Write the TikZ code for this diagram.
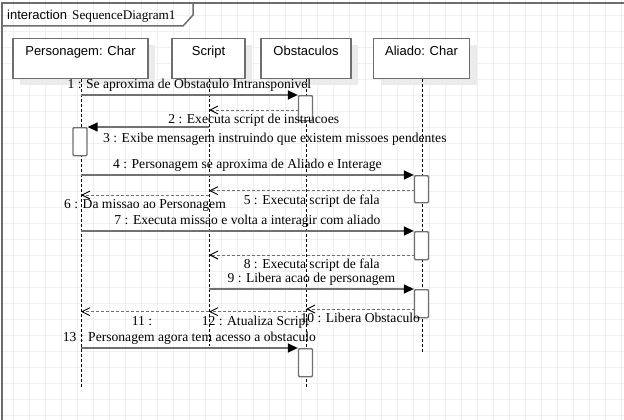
\documentclass[tikz,border=0pt]{standalone}
\usepackage{fontspec}
\setmainfont{Liberation Serif}
\newfontfamily\sansf{Liberation Sans}
\usetikzlibrary{arrows.meta,shadows}
\definecolor{gridc}{HTML}{F0F0F0}
\definecolor{linec}{HTML}{707070}
\definecolor{framec}{HTML}{6E6E6E}
\definecolor{shadc}{HTML}{EBEBEB}
\begin{document}
\begin{tikzpicture}[x=1pt,y=-1pt,
  headbox/.style={draw=framec, line width=1.2pt, fill=white, minimum width=#1,
    text height=17pt, text depth=23pt, inner ysep=0pt, inner xsep=0pt, anchor=north,
    font=\sansf\fontsize{13}{15}\selectfont,
    drop shadow={shadow xshift=7pt, shadow yshift=-6pt, fill=shadc, opacity=1}},
  actbox/.style={draw=linec, line width=1.3pt, fill=white, rounded corners=1pt,
    minimum width=14pt, minimum height=#1, inner sep=0pt, anchor=north},
  lifeline/.style={black, line width=0.9pt, dash pattern=on 3pt off 2pt},
  callmsg/.style={draw=linec, line width=1.4pt, -{Triangle[length=10pt,width=9pt,color=black]}},
  retmsg/.style={draw=linec, line width=1pt, dash pattern=on 3pt off 2pt,
    -{Straight Barb[length=8pt,width=8pt,line width=0.9pt,color=black]}},
  lbl/.style={font=\fontsize{13.6}{15}\selectfont, inner sep=0pt, anchor=base},
  above lbl/.style={lbl, midway, yshift=6.5pt},
  below lbl/.style={lbl, midway, yshift=-13.5pt},
]
\useasboundingbox (0,0) rectangle (624,420);
\fill[white] (0,0) rectangle (624,420);
% grid
\foreach \i in {0,...,38} \draw[gridc, line width=1pt] (13.7+16*\i,0) -- (13.7+16*\i,420);
\foreach \j in {0,...,25} \draw[gridc, line width=1pt] (0,15.3+16*\j) -- (624,15.3+16*\j);
% frame
\draw[framec, line width=1.5pt] (2,421) -- (2,3) -- (625,3);
\draw[framec, line width=1.5pt] (193,3) -- (193,15) -- (183,26) -- (2,26);
\node[anchor=base west, inner sep=0pt, font=\sansf\fontsize{13}{15}\selectfont] (kw) at (7,19.5) {interaction};
\node[anchor=base west, inner sep=0pt, font=\fontsize{13.2}{15}\selectfont] (dname) at (72,19.5) {SequenceDiagram1};
% heads
\node[headbox=135pt] (P) at (80.5,38) {Personagem: Char};
\node[headbox=73pt] (S) at (208.5,38) {Script};
\node[headbox=90pt] (O) at (306,38) {Obstaculos};
\node[headbox=96pt] (A) at (421.5,38) {Aliado: Char};
% lifeline ends
\coordinate (Pend) at (81,387);
\coordinate (Send) at (209,346);
\coordinate (Oend) at (306,388);
\coordinate (Aend) at (422,352);
\draw[lifeline] (P.south -| Pend) -- (Pend);
\draw[lifeline] (S.south -| Send) -- (Send);
\draw[lifeline] (O.south -| Oend) -- (Oend);
\draw[lifeline] (A.south -| Aend) -- (Aend);
% activations
\node[actbox=25pt] (actO1) at (305.5,95) {};
\node[actbox=28pt] (actP1) at (80,127) {};
\node[actbox=27pt] (actA1) at (421.5,175) {};
\node[actbox=28pt] (actA2) at (421.5,231) {};
\node[actbox=28pt] (actA3) at (421.5,289) {};
\node[actbox=28pt] (actO2) at (305.5,348) {};
% message points
\coordinate (p1) at (81,95);
\coordinate (o2) at (298.5,110);
\coordinate (s2) at (209,110);
\coordinate (s3) at (209,127);
\coordinate (p4) at (81,175);
\coordinate (a5) at (414.5,190.7);
\coordinate (s5) at (209,190.7);
\coordinate (s6) at (209,195);
\coordinate (p6) at (81,195);
\coordinate (p7) at (81,231);
\coordinate (a8) at (414.5,255);
\coordinate (s8) at (209,255);
\coordinate (s9) at (209,289);
\coordinate (a10) at (414.5,309);
\coordinate (o10) at (306,309);
\coordinate (s11) at (209,311.7);
\coordinate (p11) at (81,311.7);
\coordinate (o12) at (306,311.7);
\coordinate (s12) at (209,311.7);
\coordinate (p13) at (81,348);
% messages
\draw[callmsg] (p1) -- node[above lbl] {1 : Se aproxima de Obstaculo Intransponivel} (actO1.north west);
\draw[retmsg] (o2) -- node[below lbl] {2 : Executa script de instrucoes} (s2);
\draw[callmsg] (s3) -- (actP1.north east);
\node[lbl, anchor=base west] (l3) at (103,142.7) {3 : Exibe mensagem instruindo que existem missoes pendentes};
\draw[callmsg] (p4) -- node[above lbl] {4 : Personagem se aproxima de Aliado e Interage} (actA1.north west);
\draw[retmsg] (a5) -- node[below lbl] {5 : Executa script de fala} (s5);
\draw[retmsg] (s6) -- node[below lbl] {6 : Da missao ao Personagem} (p6);
\draw[callmsg] (p7) -- node[above lbl] {7 : Executa missao e volta a interagir com aliado} (actA2.north west);
\draw[retmsg] (a8) -- node[below lbl] {8 : Executa script de fala} (s8);
\draw[callmsg] (s9) -- node[above lbl] {9 : Libera acao de personagem} (actA3.north west);
\draw[retmsg] (a10) -- node[below lbl] {10 : Libera Obstaculo} (o10);
\draw[retmsg] (s11) -- node[below lbl, xshift=-3pt] {11 :} (p11);
\draw[retmsg] (o12) -- node[below lbl, xshift=-2pt] {12 : Atualiza Script} (s12);
\draw[callmsg] (p13) -- node[above lbl] {13 : Personagem agora tem acesso a obstaculo} (actO2.north west);
\end{tikzpicture}
\end{document}
